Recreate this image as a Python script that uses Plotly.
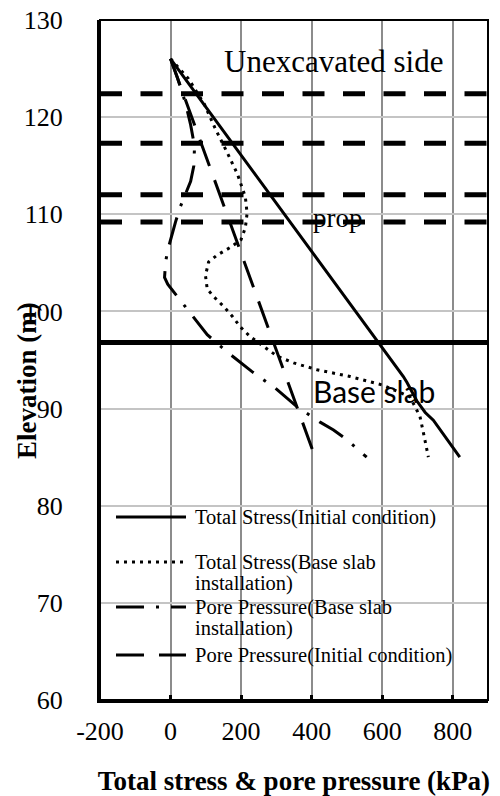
import plotly.graph_objects as go

# ---- data: stress / pressure (kPa) against elevation (m) ----
ts_init_kpa = [0, 590, 641, 660, 670, 698, 722, 745, 820]
ts_init_elev = [126, 96.8, 94.3, 93.3, 92.7, 90.8, 89.6, 88.8, 85]

ts_slab_kpa = [0, 50, 95, 127, 160, 189, 212, 217, 212, 200, 170, 132, 108, 99, 104, 123,
               151, 175, 198, 226, 264, 302, 349, 415, 509, 603, 679, 707, 717, 731]
ts_slab_elev = [126, 124, 121.4, 118.8, 116.4, 114.2, 111.8, 110.1, 108.6, 107.4, 106.6, 105.8,
                105.1, 103.7, 102.3, 101.5, 100.5, 99.5, 98.4, 97.4, 96.4, 95.4, 94.7, 94.0,
                93.3, 92.4, 91.2, 89.2, 87.5, 85]

pp_slab_kpa = [0, 20, 42, 57, 68, 66, 57, 28, 14, 5, -8, -14, -17, -8, 5, 47, 104, 165,
               231, 297, 358, 424, 462, 500, 556]
pp_slab_elev = [126, 124, 121.5, 119.2, 117, 115, 113.4, 110.8, 109.2, 107.9, 106.3, 105.1,
                103.5, 102.8, 102.2, 100.2, 97.6, 95.7, 93.8, 92.1, 90.2, 88.6, 87.8, 86.8, 85]

pp_init_kpa = [0, 410]
pp_init_elev = [126, 85]

prop_levels = [122.4, 117.3, 112.0, 109.2]
base_slab_level = 96.8

x_range = [-200, 900]
y_range = [60, 130]
x_ticks = [-200, 0, 200, 400, 600, 800]
y_ticks = [60, 70, 80, 90, 100, 110, 120, 130]

names = [
    "Total Stress(Initial condition)",
    "Total Stress(Base slab installation)",
    "Pore Pressure(Base slab installation)",
    "Pore Pressure(Initial condition)",
]

SERIF = "Liberation Serif, Times New Roman, serif"
BLACK = "#000000"

styles = {
    names[0]: dict(width=3, dash="solid"),
    names[1]: dict(width=3, dash="3px,5px"),
    names[2]: dict(width=3, dash="28px,12px,3px,12px"),
    names[3]: dict(width=3, dash="28px,15px"),
}

fig = go.Figure()

# horizontal reference levels
for lev in prop_levels:
    fig.add_trace(go.Scatter(x=x_range, y=[lev, lev], mode="lines", showlegend=False,
                             hoverinfo="skip",
                             line=dict(color=BLACK, width=5, dash="22px,18.5px")))
fig.add_trace(go.Scatter(x=x_range, y=[base_slab_level] * 2, mode="lines", showlegend=False,
                         hoverinfo="skip", line=dict(color=BLACK, width=5)))

series = [
    (names[0], ts_init_kpa, ts_init_elev),
    (names[1], ts_slab_kpa, ts_slab_elev),
    (names[2], pp_slab_kpa, pp_slab_elev),
    (names[3], pp_init_kpa, pp_init_elev),
]
for nm, xs, ys in series:
    fig.add_trace(go.Scatter(x=xs, y=ys, mode="lines", name=nm, showlegend=False,
                             line=dict(color=BLACK, **styles[nm])))

# plot-area geometry (pixels) used for the in-chart key
L, R, T, B = 100, 12, 20, 96
W, H = 500, 796
pw, ph = W - L - R, H - T - B


def px(xp):
    return (xp - L) / pw


def py(yp):
    return (H - B - yp) / ph


shapes = [dict(type="rect", xref="paper", yref="paper", x0=0, x1=1, y0=0, y1=1,
               line=dict(color=BLACK, width=2), layer="above")]
annotations = []

key_rows = [
    (names[0], 517, ["Total Stress(Initial condition)"]),
    (names[1], 562, ["Total Stress(Base slab", "installation)"]),
    (names[2], 607, ["Pore Pressure(Base slab", "installation)"]),
    (names[3], 655, ["Pore Pressure(Initial condition)"]),
]
for nm, yrow, lines in key_rows:
    st = styles[nm]
    shapes.append(dict(type="line", xref="paper", yref="paper",
                       x0=px(116), x1=px(186), y0=py(yrow), y1=py(yrow),
                       line=dict(color=BLACK, width=st["width"], dash=st["dash"])))
    for i, txt in enumerate(lines):
        annotations.append(dict(text=txt, xref="paper", yref="paper", x=px(193),
                                y=py(yrow + i * 21.5), xanchor="left", yanchor="middle",
                                showarrow=False, font=dict(family=SERIF, size=20.5, color=BLACK)))

# labels inside the chart
annotations += [
    dict(text="Unexcavated side", x=462, y=125.7, xref="x", yref="y", showarrow=False,
         xanchor="center", yanchor="middle", font=dict(family=SERIF, size=31, color=BLACK)),
    dict(text="prop", x=474, y=109.6, xref="x", yref="y", showarrow=False,
         xanchor="center", yanchor="middle", font=dict(family=SERIF, size=27, color=BLACK)),
    dict(text="Base slab", x=577, y=91.8, xref="x", yref="y", showarrow=False,
         xanchor="center", yanchor="middle", font=dict(family="Lato, Open Sans, sans-serif",
                                                        size=30, color=BLACK)),
    dict(text="<b>Elevation (m)</b>", xref="paper", yref="paper", x=px(27), y=py(381),
         textangle=-90, showarrow=False, xanchor="center", yanchor="middle",
         font=dict(family=SERIF, size=27, color=BLACK)),
]

fig.update_layout(
    width=W, height=H,
    margin=dict(l=L, r=R, t=T, b=B, pad=0, autoexpand=False),
    paper_bgcolor="white", plot_bgcolor="white",
    showlegend=False,
    shapes=shapes, annotations=annotations,
    font=dict(family=SERIF, size=26, color=BLACK),
    xaxis=dict(range=x_range, tickvals=x_ticks, ticktext=[str(v) for v in x_ticks],
               automargin=False,
               showgrid=True, gridcolor="#8c8c8c", gridwidth=1.5,
               zeroline=False, showline=True, linecolor=BLACK, linewidth=3,
               ticks="inside", ticklen=5, tickwidth=3, tickcolor=BLACK,
               ticklabelstandoff=6,
               tickfont=dict(family=SERIF, size=26, color=BLACK),
               title=dict(text="<b>Total stress & pore pressure (kPa)</b>",
                          font=dict(family=SERIF, size=27, color=BLACK), standoff=27)),
    yaxis=dict(range=y_range, tickvals=y_ticks, automargin=False,
               showgrid=True, gridcolor="#c4c4c4",
               gridwidth=1.5, zeroline=False, showline=True, linecolor=BLACK, linewidth=3,
               ticks="", ticklabelstandoff=29,
               tickfont=dict(family=SERIF, size=26, color=BLACK)),
)

fig.write_html("out.html")
